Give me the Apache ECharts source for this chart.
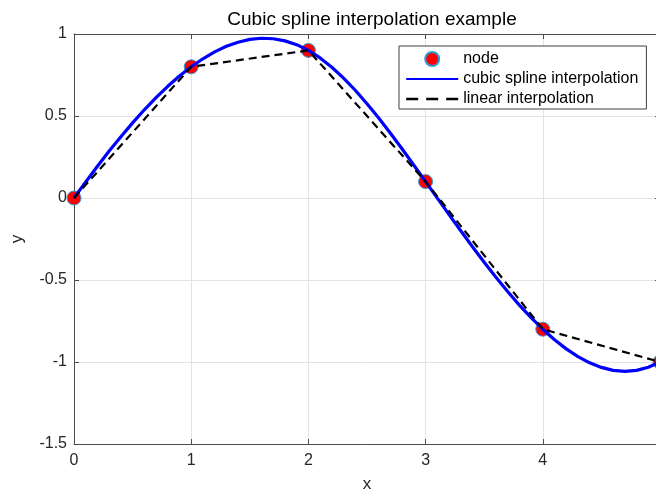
<!DOCTYPE html>
<html>
<head>
<meta charset="utf-8">
<script src="https://cdn.jsdelivr.net/npm/echarts@6/dist/echarts.min.js"></script>
<style>html,body{margin:0;padding:0;background:#fff}#c{width:656px;height:492px}</style>
</head>
<body>
<div id="c"></div>
<script>
var nodeX = [0, 1, 2, 3, 4, 5];
var nodeY = [0, 0.8, 0.9, 0.1, -0.8, -1];
var splineX = [0, 0.1, 0.2, 0.3, 0.4, 0.5, 0.6, 0.7, 0.8, 0.9,
               1, 1.1, 1.2, 1.3, 1.4, 1.5, 1.6, 1.7, 1.8, 1.9,
               2, 2.1, 2.2, 2.3, 2.4, 2.5, 2.6, 2.7, 2.8, 2.9,
               3, 3.1, 3.2, 3.3, 3.4, 3.5, 3.6, 3.7, 3.8, 3.9,
               4, 4.1, 4.2, 4.3, 4.4, 4.5, 4.6, 4.7, 4.8, 4.9, 5];
var splineY = [0, 0.098, 0.194, 0.286, 0.374, 0.458, 0.538, 0.612, 0.681, 0.744,
               0.800, 0.849, 0.891, 0.925, 0.950, 0.967, 0.974, 0.971, 0.958, 0.935,
               0.900, 0.854, 0.797, 0.731, 0.657, 0.575, 0.488, 0.395, 0.299, 0.200,
               0.100, -0.001, -0.101, -0.200, -0.297, -0.392, -0.483, -0.570, -0.653, -0.729,
               -0.800, -0.864, -0.920, -0.967, -1.005, -1.033, -1.051, -1.057, -1.051, -1.032, -1.000];
var xTicks = [0, 1, 2, 3, 4, 5];
var yTicks = [-1.5, -1, -0.5, 0, 0.5, 1];
var titleText = 'Cubic spline interpolation example';
var seriesNames = ['node', 'cubic spline interpolation', 'linear interpolation'];

function pairs(xs, ys) { return xs.map(function (x, i) { return [x, ys[i]]; }); }

var font = 'Liberation Sans, Arial, Helvetica, sans-serif';
var axisColor = '#4d4d4d';
var textColor = '#262626';
var gridColor = '#e3e3e3';

var chart = echarts.init(document.getElementById('c'), null, {renderer: 'canvas'});
chart.setOption({
  animation: false,
  backgroundColor: '#ffffff',
  title: {
    text: titleText,
    left: 367, top: 5, textAlign: 'center',
    textStyle: {fontFamily: font, fontSize: 19, fontWeight: 'normal', color: '#000'}
  },
  legend: {
    orient: 'vertical',
    left: 399, top: 46,
    padding: [5, 8, 2, 6],
    itemWidth: 52, itemHeight: 14, itemGap: 4,
    backgroundColor: '#ffffff',
    borderColor: '#404040', borderWidth: 1, borderRadius: 0,
    textStyle: {fontFamily: font, fontSize: 16, color: '#000', lineHeight: 16},
    data: [
      {name: seriesNames[0]},
      {name: seriesNames[1], itemStyle: {opacity: 0}},
      {name: seriesNames[2], itemStyle: {opacity: 0}, lineStyle: {type: [12, 8], width: 2.4}}
    ]
  },
  grid: {left: 74, top: 34, width: 586, height: 410, containLabel: false, outerBoundsMode: 'none'},
  xAxis: [{
    type: 'value', min: xTicks[0], max: xTicks[xTicks.length - 1], interval: 1,
    name: 'x', nameLocation: 'middle', nameGap: 32,
    nameTextStyle: {fontFamily: font, fontSize: 17, color: textColor},
    axisLine: {show: true, onZero: false, lineStyle: {color: axisColor, width: 1}},
    axisTick: {show: true, inside: true, length: 5, lineStyle: {color: axisColor}},
    axisLabel: {fontFamily: font, fontSize: 16, color: textColor, margin: 9, showMaxLabel: true, showMinLabel: true},
    splitLine: {show: true, lineStyle: {color: gridColor, width: 1}}
  }, {
    type: 'value', position: 'top', min: xTicks[0], max: xTicks[xTicks.length - 1], interval: 1,
    axisLine: {show: true, onZero: false, lineStyle: {color: axisColor, width: 1}},
    axisTick: {show: true, inside: true, length: 5, lineStyle: {color: axisColor}},
    axisLabel: {show: false}, splitLine: {show: false}
  }],
  yAxis: [{
    type: 'value', min: yTicks[0], max: yTicks[yTicks.length - 1], interval: 0.5,
    name: 'y', nameLocation: 'middle', nameGap: 48, nameRotate: 90,
    nameTextStyle: {fontFamily: font, fontSize: 17, color: textColor},
    axisLine: {show: true, onZero: false, lineStyle: {color: axisColor, width: 1}},
    axisTick: {show: true, inside: true, length: 5, lineStyle: {color: axisColor}},
    axisLabel: {fontFamily: font, fontSize: 16, color: textColor, margin: 7},
    splitLine: {show: true, lineStyle: {color: gridColor, width: 1}}
  }, {
    type: 'value', position: 'right', min: yTicks[0], max: yTicks[yTicks.length - 1], interval: 0.5,
    axisLine: {show: true, onZero: false, lineStyle: {color: axisColor, width: 1}},
    axisTick: {show: true, inside: true, length: 5, lineStyle: {color: axisColor}},
    axisLabel: {show: false}, splitLine: {show: false}
  }],
  series: [{
    name: seriesNames[0], type: 'scatter', xAxisIndex: 0, yAxisIndex: 0,
    symbol: 'circle', symbolSize: 14,
    itemStyle: {color: '#ff0000', borderColor: '#2b9fd6', borderWidth: 1, opacity: 1},
    data: pairs(nodeX, nodeY), z: 2
  }, {
    name: seriesNames[1], type: 'line', xAxisIndex: 0, yAxisIndex: 0,
    symbol: 'none', showSymbol: false,
    lineStyle: {color: '#0000ff', width: 3.2},
    itemStyle: {color: '#0000ff'},
    data: pairs(splineX, splineY), z: 3
  }, {
    name: seriesNames[2], type: 'line', xAxisIndex: 0, yAxisIndex: 0,
    symbol: 'none', showSymbol: false,
    lineStyle: {color: '#000000', width: 2.2, type: [8, 5]},
    itemStyle: {color: '#000000'},
    data: pairs(nodeX, nodeY), z: 4
  }]
});
</script>
</body>
</html>
